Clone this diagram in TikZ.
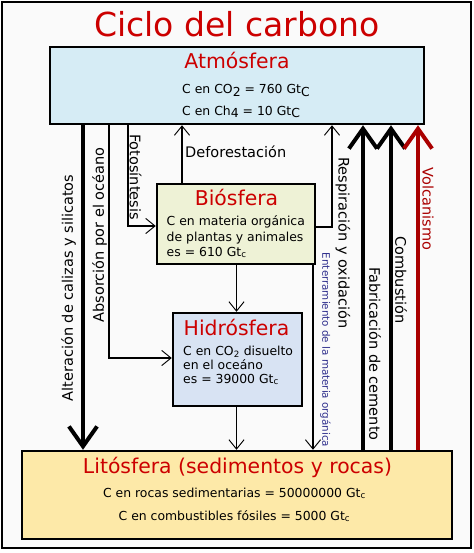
\documentclass[tikz,border=0pt]{standalone}
\usepackage{fontspec}
\setmainfont{DejaVu Sans}
\usepackage{tikz}
\usetikzlibrary{arrows.meta,positioning}
\definecolor{rojo}{HTML}{CC0000}
\definecolor{volcan}{HTML}{AA0000}
\definecolor{azulT}{HTML}{2E2E8C}
\definecolor{cielo}{HTML}{D6ECF5}
\definecolor{hoja}{HTML}{EEF2D6}
\definecolor{mar}{HTML}{D8E3F3}
\definecolor{roca}{HTML}{FDE9A8}
\definecolor{fondo}{HTML}{FAFAFA}
\newcommand{\baja}[1]{\raisebox{-.4ex}{#1}}

\begin{document}
\begin{tikzpicture}[x=0.03cm,y=-0.03cm,
  caja/.style={draw,line width=2.1pt,inner sep=0pt},
  titulo/.style={text=rojo,inner sep=0pt,font=\fontsize{17.4}{20}\selectfont},
  dato/.style={inner sep=0pt,font=\fontsize{10.6}{12}\selectfont},
  flujo/.style={inner sep=0pt,font=\fontsize{12.4}{14}\selectfont},
  fina/.style={line width=1.7pt,-{Straight Barb[length=8pt,width=13pt,line width=0.8pt]}},
  gruesa/.style={line width=3.4pt,-{Straight Barb[length=17pt,width=24pt]}}]
 \useasboundingbox (0,0) rectangle (474,553);
 \draw[fill=fondo,line width=2pt] (2,2) rectangle (471,548);
 \node[inner sep=0pt,anchor=base,text=rojo,font=\fontsize{28.2}{32}\selectfont] (tit) at (237,36.5) {Ciclo del carbono};
 % depositos
 \node[caja,fill=cielo,minimum width=11.22cm,minimum height=2.31cm] (atm) at (237,85.5) {};
 \node[caja,fill=hoja,minimum width=4.74cm,minimum height=2.4cm] (bio) at (236,224) {};
 \node[caja,fill=mar,minimum width=3.87cm,minimum height=2.79cm] (hidro) at (237.5,359.5) {};
 \node[caja,fill=roca,minimum width=12.9cm,minimum height=2.64cm] (lito) at (237,495) {};
 \node[titulo,anchor=base] (atmT) at (237,68) {Atmósfera};
 \node[dato,anchor=base west] (atm1) at (182,93.5) {C en CO\baja{2} = 760 Gt\baja{C}};
 \node[dato,anchor=base west] (atm2) at (182,115) {C en Ch\baja{4} = 10 Gt\baja{C}};
 \node[titulo,anchor=base] (bioT) at (236.5,205) {Biósfera};
 \node[dato,anchor=base west] (bio1) at (166.5,225) {C en materia orgánica};
 \node[dato,anchor=base west] (bio2) at (166.5,241) {de plantas y animales};
 \node[dato,anchor=base west] (bio3) at (166.5,256) {es = 610 Gt\textsubscript{c}};
 \node[titulo,anchor=base] (hidroT) at (236.5,335) {Hidrósfera};
 \node[dato,anchor=base west] (hidro1) at (183,355) {C en CO\textsubscript{2} disuelto};
 \node[dato,anchor=base west] (hidro2) at (183,369) {en el oceáno};
 \node[dato,anchor=base west] (hidro3) at (183,383) {es = 39000 Gt\textsubscript{c}};
 \node[titulo,anchor=base] (litoT) at (237.5,473) {Litósfera (sedimentos y rocas)};
 \node[dato,anchor=base] (lito1) at (234.5,497) {C en rocas sedimentarias = 50000000 Gt\textsubscript{c}};
 \node[dato,anchor=base] (lito2) at (234.5,520) {C en combustibles fósiles = 5000 Gt\textsubscript{c}};
 % flujos
 \coordinate (cAlt) at (83,0);
 \coordinate (cAbs) at (109,358);
 \coordinate (cFoto) at (128,226);
 \coordinate (cDef) at (182,0);
 \coordinate (cBH) at (236.5,0);
 \coordinate (cResp) at (332,227);
 \coordinate (cEnt) at (313,0);
 \coordinate (cCem) at (363,0);
 \coordinate (cComb) at (391,0);
 \coordinate (cVol) at (418,0);
 \draw[gruesa] (atm.south -| cAlt) -- (lito.north -| cAlt);
 \draw[fina] (atm.south -| cAbs) |- (hidro.west |- cAbs);
 \draw[fina] (atm.south -| cFoto) |- (bio.west |- cFoto);
 \draw[fina] (bio.north -| cDef) -- (atm.south -| cDef);
 \draw[fina] (bio.south -| cBH) -- (hidro.north -| cBH);
 \draw[fina] (hidro.south -| cBH) -- (lito.north -| cBH);
 \draw[fina] (bio.east |- cResp) -| (atm.south -| cResp);
 \draw[fina] (bio.south -| cEnt) -- (lito.north -| cEnt);
 \draw[gruesa] (lito.north -| cCem) -- (atm.south -| cCem);
 \draw[gruesa] (lito.north -| cComb) -- (atm.south -| cComb);
 \draw[gruesa,volcan] (lito.north -| cVol) -- (atm.south -| cVol);
 \node[flujo,rotate=90] (lAlt) at (68.5,288) {Alteración de calizas y silicatos};
 \node[flujo,rotate=90] (lAbs) at (99.5,235) {Absorción por el océano};
 \node[flujo,rotate=-90] (lFoto) at (135.5,177) {Fotosíntesis};
 \node[flujo,anchor=west] (lDef) at (185,152) {Deforestación};
 \node[flujo,rotate=-90] (lResp) at (343,243) {Respiración y oxidación};
 \node[flujo,rotate=-90,text=azulT,font=\fontsize{8.8}{10}\selectfont] (lEnt) at (325.5,350) {Enterramiento de la materia orgánica};
 \node[flujo,rotate=-90] (lCem) at (375,354) {Fabricación de cemento};
 \node[flujo,rotate=-90] (lComb) at (401,280) {Combustión};
 \node[flujo,rotate=-90,text=volcan] (lVol) at (428,209) {Volcanismo};
\end{tikzpicture}
\end{document}
